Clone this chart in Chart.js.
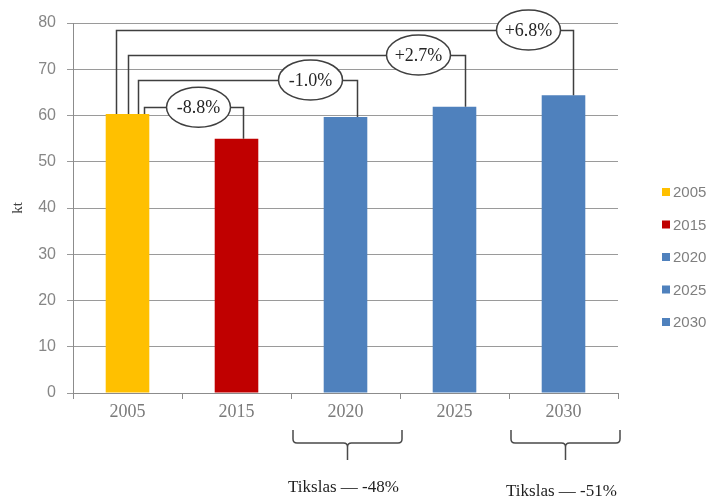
<!DOCTYPE html>
<html>
<head>
<meta charset="utf-8">
<script src="https://cdn.jsdelivr.net/npm/chart.js@4.4.1/dist/chart.umd.min.js"></script>
<style>
  html, body { margin: 0; padding: 0; background: #ffffff; }
  canvas { display: block; }
</style>
</head>
<body>
<canvas id="chart" width="714" height="500"></canvas>
<script>
// Emissions per year, kt
const years = ['2005', '2015', '2020', '2025', '2030'];
const emissions = [60.3, 55.0, 59.7, 61.9, 64.4];
const barColors = ['#FFC000', '#C00000', '#4F81BD', '#4F81BD', '#4F81BD'];

// Change versus 2005 for 2015, 2020, 2025, 2030
const changeLabels = ['-8.8%', '-1.0%', '+2.7%', '+6.8%'];

// Targets shown under the axis
const targetYears = ['2020', '2030'];
const targetLabels = ['Tikslas — -48%', 'Tikslas — -51%'];

const yAxisTitle = 'kt';

// Drawing layout of the change connectors (one per compared year)
const connectorLayout = [
  { level: 61.8, fromDx: 16,  toDx: 6.5,  labelDx: -38 },
  { level: 67.7, fromDx: 10,  toDx: 11.5, labelDx: -35 },
  { level: 73.1, fromDx: 0,   toDx: 10.5, labelDx: -36 },
  { level: 78.5, fromDx: -12, toDx: 9.5,  labelDx: -35 }
];

const connectorPlugin = {
  id: 'connectors',
  afterDatasetsDraw(chart) {
    const { ctx } = chart;
    const meta = chart.getDatasetMeta(0);
    const ys = chart.scales.y;
    const base = meta.data[0];
    const baseTop = ys.getPixelForValue(emissions[0]);
    ctx.save();
    ctx.strokeStyle = '#3f3f3f';
    ctx.lineWidth = 1.5;
    changeLabels.forEach((label, i) => {
      const lay = connectorLayout[i];
      const target = meta.data[i + 1];
      const targetTop = ys.getPixelForValue(emissions[i + 1]);
      const ly = Math.round(ys.getPixelForValue(lay.level)) + 0.5;
      const x0 = Math.round(base.x + lay.fromDx) + 0.5;
      const x1 = Math.round(target.x + lay.toDx) + 0.5;
      ctx.beginPath();
      ctx.moveTo(x0, baseTop);
      ctx.lineTo(x0, ly);
      ctx.lineTo(x1, ly);
      ctx.lineTo(x1, targetTop);
      ctx.stroke();
    });
    // ellipses with the change text on top of the lines
    changeLabels.forEach((label, i) => {
      const lay = connectorLayout[i];
      const target = meta.data[i + 1];
      const cy = ys.getPixelForValue(lay.level);
      const cx = target.x + lay.labelDx;
      ctx.beginPath();
      ctx.ellipse(cx, cy, 32, 20, 0, 0, Math.PI * 2);
      ctx.fillStyle = '#ffffff';
      ctx.fill();
      ctx.stroke();
      ctx.fillStyle = '#262626';
      ctx.font = '18px "Liberation Serif", "Times New Roman", serif';
      ctx.textAlign = 'center';
      ctx.textBaseline = 'middle';
      ctx.fillText(label, cx, cy + 1);
    });
    ctx.restore();
  }
};

const targetPlugin = {
  id: 'targets',
  afterDraw(chart) {
    const { ctx } = chart;
    const xs = chart.scales.x;
    const textY = [488, 492];
    ctx.save();
    ctx.strokeStyle = '#4a4a4a';
    ctx.lineWidth = 1.5;
    targetYears.forEach((yr, k) => {
      const idx = years.indexOf(yr);
      const half = (xs.getPixelForValue(1) - xs.getPixelForValue(0)) / 2;
      const c = xs.getPixelForValue(idx);
      const a = c - half + 2;
      const b = c + half + 2;
      const m = (a + b) / 2;
      const top = 430, mid = 443, stem = 460, r = 4;
      ctx.beginPath();
      ctx.moveTo(a, top);
      ctx.lineTo(a, mid - r);
      ctx.quadraticCurveTo(a, mid, a + r, mid);
      ctx.lineTo(m - r, mid);
      ctx.quadraticCurveTo(m, mid, m, mid + r);
      ctx.lineTo(m, stem);
      ctx.moveTo(b, top);
      ctx.lineTo(b, mid - r);
      ctx.quadraticCurveTo(b, mid, b - r, mid);
      ctx.lineTo(m + r, mid);
      ctx.quadraticCurveTo(m, mid, m, mid + r);
      ctx.stroke();
      ctx.fillStyle = '#1f1f1f';
      ctx.font = '17px "Liberation Serif", "Times New Roman", serif';
      ctx.textAlign = 'center';
      ctx.textBaseline = 'middle';
      ctx.fillText(targetLabels[k], m - 4, textY[k]);
    });
    ctx.restore();
  }
};

const legendPlugin = {
  id: 'sideLegend',
  afterDraw(chart) {
    const { ctx } = chart;
    ctx.save();
    ctx.font = '15px "Liberation Sans", Arial, sans-serif';
    ctx.textBaseline = 'middle';
    ctx.textAlign = 'left';
    years.forEach((yr, i) => {
      const y = 192 + i * 32.5;
      ctx.fillStyle = barColors[i];
      ctx.fillRect(662, y - 4, 8, 8);
      ctx.fillStyle = '#7f7f7f';
      ctx.fillText(yr, 673, y + 1);
    });
    ctx.restore();
  }
};

new Chart(document.getElementById('chart'), {
  type: 'bar',
  data: {
    labels: years,
    datasets: [{
      data: emissions,
      backgroundColor: barColors,
      borderWidth: 0,
      barPercentage: 0.4,
      categoryPercentage: 1.0
    }]
  },
  options: {
    responsive: false,
    animation: false,
    devicePixelRatio: 1,
    layout: { padding: { left: 0, right: 96, top: 23, bottom: 0 } },
    plugins: {
      legend: { display: false },
      tooltip: { enabled: false }
    },
    scales: {
      x: {
        afterFit(scale) { scale.height = 107; },
        grid: {
          display: true,
          drawOnChartArea: false,
          drawTicks: true,
          tickLength: 6,
          color: '#8c8c8c'
        },
        border: { display: true, color: '#8c8c8c', width: 1 },
        ticks: {
          color: '#7a7a7a',
          padding: 2,
          font: { family: '"Liberation Serif", "Times New Roman", serif', size: 18 }
        }
      },
      y: {
        min: 0,
        max: 80,
        afterFit(scale) { scale.width = 73; },
        grid: {
          color: '#9a9a9a',
          tickLength: 6,
          drawTicks: true
        },
        border: { display: true, color: '#8c8c8c', width: 1 },
        ticks: {
          stepSize: 10,
          color: '#868686',
          padding: 11,
          font: { family: '"Liberation Sans", Arial, sans-serif', size: 16 }
        },
        title: {
          display: true,
          text: yAxisTitle,
          color: '#404040',
          padding: { top: 9, bottom: 0 },
          font: { family: '"Liberation Serif", "Times New Roman", serif', size: 15 }
        }
      }
    }
  },
  plugins: [connectorPlugin, targetPlugin, legendPlugin]
});
</script>
</body>
</html>
